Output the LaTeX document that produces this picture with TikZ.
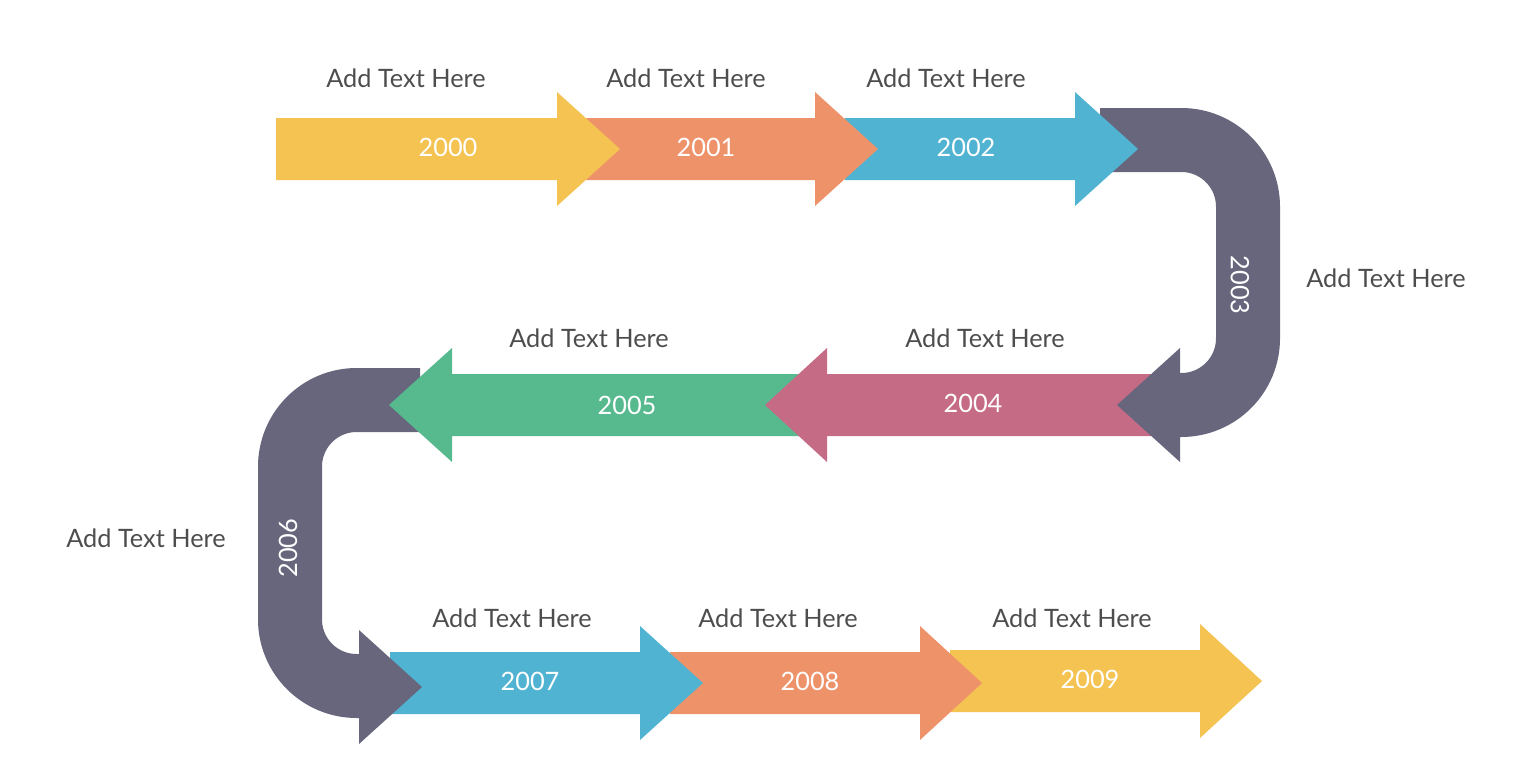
\documentclass[tikz,border=0pt]{standalone}
\usepackage{fontspec}
\setmainfont{Lato}
\definecolor{cyellow}{HTML}{F4C352}
\definecolor{corange}{HTML}{EE926A}
\definecolor{cblue}{HTML}{50B3D1}
\definecolor{cdark}{HTML}{67667D}
\definecolor{cpink}{HTML}{C56B85}
\definecolor{cgreen}{HTML}{57BA8F}
\definecolor{ctext}{HTML}{4D4D4D}
% body start, head base, tip, centre y, colour
\newcommand{\tlarrow}[5]{%
  \fill[#5] (#1,#4-31) -- (#2,#4-31) -- (#2,#4-57) -- (#3,#4) -- (#2,#4+57)
    -- (#2,#4+31) -- (#1,#4+31) -- cycle;}
\begin{document}
\begin{tikzpicture}[x=0.75pt, y=-0.75pt,
    note/.style={text=ctext, font=\fontsize{19}{23}\selectfont},
    year/.style={text=white, font=\fontsize{19}{23}\selectfont},
    band/.style={draw=cdark, line width=48pt, rounded corners=50}]
    \useasboundingbox (0,0) rectangle (1539,782);
    % bottom row
    \tlarrow{950}{1200}{1262}{681}{cyellow}
    \tlarrow{670}{920}{982}{683}{corange}
    \tlarrow{390}{640}{703}{683}{cblue}
    % left bend
    \draw[band] (420,400) -- (290,400) -- (290,686) -- (380,686);
    \fill[cdark] (359,630) -- (422,687) -- (359,744) -- cycle;
    % middle row
    \tlarrow{800}{452}{389}{405}{cgreen}
    \tlarrow{1160}{827}{765}{405}{cpink}
    % right bend
    \draw[band] (1100,140) -- (1248,140) -- (1248,405) -- (1160,405);
    \fill[cdark] (1180,348) -- (1117,405) -- (1180,462) -- cycle;
    % top row
    \tlarrow{845}{1075}{1138}{149}{cblue}
    \tlarrow{585}{815}{878}{149}{corange}
    \tlarrow{276}{557}{620}{149}{cyellow}
    % years
    \node[year] (y0) at (448,147) {2000};
    \node[year] (y1) at (706,147) {2001};
    \node[year] (y2) at (966,147) {2002};
    \node[year, rotate=-90] (y3) at (1240,285) {2003};
    \node[year] (y4) at (973,403) {2004};
    \node[year] (y5) at (627,405) {2005};
    \node[year, rotate=90] (y6) at (288,548) {2006};
    \node[year] (y7) at (530,681) {2007};
    \node[year] (y8) at (810,681) {2008};
    \node[year] (y9) at (1090,679) {2009};
    % notes
    \node[note] (n0) at (406,78) {Add Text Here};
    \node[note] (n1) at (686,78) {Add Text Here};
    \node[note] (n2) at (946,78) {Add Text Here};
    \node[note] (n3) at (1386,278) {Add Text Here};
    \node[note] (n4) at (985,338) {Add Text Here};
    \node[note] (n5) at (589,338) {Add Text Here};
    \node[note] (n6) at (146,538) {Add Text Here};
    \node[note] (n7) at (512,618) {Add Text Here};
    \node[note] (n8) at (778,618) {Add Text Here};
    \node[note] (n9) at (1072,618) {Add Text Here};
\end{tikzpicture}
\end{document}
